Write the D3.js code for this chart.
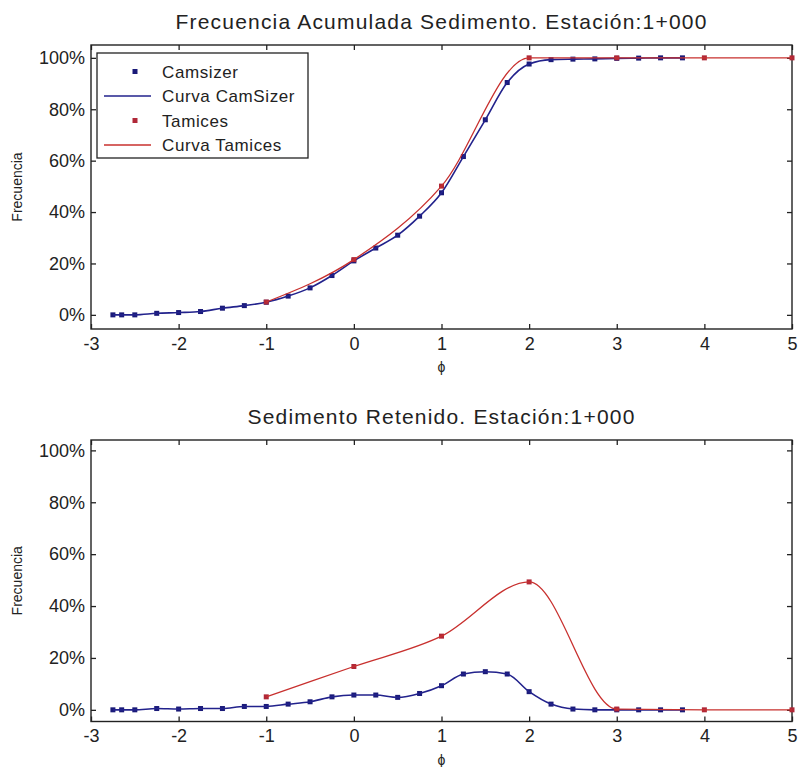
<!DOCTYPE html>
<html>
<head>
<meta charset="utf-8">
<script src="https://cdn.jsdelivr.net/npm/d3@7"></script>
<style>
  body { margin: 0; background: #fff; }
  text { font-family: "Liberation Sans", Arial, Helvetica, sans-serif; fill: #222; }
</style>
</head>
<body>
<svg id="chart"></svg>
<script>
// phi classes (Camsizer) and sieve sizes (Tamices)
var phiCam = [-2.75, -2.65, -2.5, -2.25, -2, -1.75, -1.5, -1.25, -1, -0.75, -0.5, -0.25,
              0, 0.25, 0.5, 0.75, 1, 1.25, 1.5, 1.75, 2, 2.25, 2.5, 2.75, 3, 3.25, 3.5, 3.75];
var phiTam = [-1, 0, 1, 2, 3, 4, 5];

// cumulative frequency (%)
var cumCam = [0, 0, 0, 0.6, 0.9, 1.3, 2.6, 3.6, 4.9, 7.3, 10.5, 15.3,
              21, 26, 31, 38.4, 47.5, 61.6, 75.9, 90.4, 97.6, 99.3, 99.5, 99.6, 99.8, 99.9, 100, 100];
var cumTam = [5, 21.5, 50.1, 100, 100, 100, 100];

// retained sediment (%)
var retCam = [0, 0, 0, 0.5, 0.3, 0.5, 0.5, 1.3, 1.3, 2.2, 3.1, 5.0,
              5.7, 5.7, 4.8, 6.3, 9.3, 13.8, 14.7, 13.8, 7.0, 2.2, 0.3, 0, 0, 0, 0, 0];
var retTam = [5, 16.7, 28.4, 49.3, 0.3, 0, 0];

var xTicks = [-3, -2, -1, 0, 1, 2, 3, 4, 5];
var yTicks = [0, 20, 40, 60, 80, 100];
var legendLabels = ["Camsizer", "Curva CamSizer", "Tamices", "Curva Tamices"];

var blue = "#22228c";
var blueMk = "#1a1a78";
var red = "#c8302e";
var redMk = "#b02838";

var W = 799, H = 767;
var svg = d3.select("#chart").attr("width", W).attr("height", H);

var plotW = 701;

function zip(xs, ys) {
    return xs.map(function(d, i) { return [d, ys[i]]; });
}

function drawPanel(opt) {
    var g = svg.append("g").attr("transform", "translate(" + opt.left + "," + opt.top + ")");
    var h = opt.height;

    var x = d3.scaleLinear().domain([-3, 5]).range([0, plotW]);
    var y = d3.scaleLinear().domain(opt.yDomain).range([h, 0]);

    var line = d3.line()
        .x(function(d) { return x(d[0]); })
        .y(function(d) { return y(d[1]); })
        .curve(d3.curveMonotoneX);

    // axes, ticks pointing inward (plain hyphen for negatives, like matlab)
    g.append("g").attr("transform", "translate(0," + h + ")")
        .call(d3.axisBottom(x).tickValues(xTicks).tickSize(-5).tickPadding(8)
            .tickFormat(function(d) { return String(d); }));
    g.append("g").call(d3.axisTop(x).tickValues(xTicks).tickSize(-5).tickFormat(""));
    g.append("g")
        .call(d3.axisLeft(y).tickValues(yTicks).tickSize(-5).tickPadding(6)
            .tickFormat(function(d) { return d + "%"; }));
    g.append("g").attr("transform", "translate(" + plotW + ",0)")
        .call(d3.axisRight(y).tickValues(yTicks).tickSize(-5).tickFormat(""));

    g.selectAll(".domain").remove();
    g.selectAll(".tick line").attr("stroke", "#222").attr("stroke-width", 1.3);
    g.selectAll(".tick text").attr("font-size", 18).attr("fill", "#222")
        .attr("font-family", "Liberation Sans, Arial, sans-serif");

    g.append("rect")
        .attr("width", plotW).attr("height", h)
        .attr("fill", "none").attr("stroke", "#222").attr("stroke-width", 1.4);

    var cam = zip(phiCam, opt.cam);
    var tam = zip(phiTam, opt.tam);

    // Camsizer points + curve
    g.selectAll("rect.cam").data(cam).enter().append("rect")
        .attr("class", "cam")
        .attr("x", function(d) { return x(d[0]) - 2.5; })
        .attr("y", function(d) { return y(d[1]) - 2.5; })
        .attr("width", 5).attr("height", 5)
        .attr("fill", blueMk);
    g.append("path").datum(cam)
        .attr("d", line).attr("fill", "none")
        .attr("stroke", blue).attr("stroke-width", 1.6);

    // Tamices points + curve
    g.selectAll("rect.tam").data(tam).enter().append("rect")
        .attr("class", "tam")
        .attr("x", function(d) { return x(d[0]) - 2.5; })
        .attr("y", function(d) { return y(d[1]) - 2.5; })
        .attr("width", 5).attr("height", 5)
        .attr("fill", redMk);
    g.append("path").datum(tam)
        .attr("d", line).attr("fill", "none")
        .attr("stroke", red).attr("stroke-width", 1.3);

    // titles
    g.append("text")
        .attr("x", plotW / 2).attr("y", opt.titleY)
        .attr("text-anchor", "middle")
        .attr("font-size", 21).attr("letter-spacing", 1.2)
        .text(opt.title);

    g.append("text")
        .attr("x", plotW / 2).attr("y", h + 43)
        .attr("text-anchor", "middle")
        .attr("font-size", 14)
        .text("\u03D5");

    g.append("text")
        .attr("transform", "translate(" + (-69) + "," + (h / 2) + ") rotate(-90)")
        .attr("text-anchor", "middle")
        .attr("font-size", 14)
        .text("Frecuencia");

    return g;
}

var top1 = drawPanel({
    left: 91, top: 45, height: 284,
    yDomain: [-5.5, 105],
    cam: cumCam, tam: cumTam,
    title: "Frecuencia Acumulada Sedimento. Estación:1+000",
    titleY: -16
});

drawPanel({
    left: 91, top: 440, height: 281.5,
    yDomain: [-4.5, 104],
    cam: retCam, tam: retTam,
    title: "Sedimento Retenido. Estación:1+000",
    titleY: -16
});

// legend in the upper panel
var leg = top1.append("g").attr("transform", "translate(6,8)");
leg.append("rect")
    .attr("width", 211).attr("height", 105)
    .attr("fill", "#fff").attr("stroke", "#222").attr("stroke-width", 1.3);

var rows = leg.selectAll("g.row").data(legendLabels).enter().append("g")
    .attr("class", "row")
    .attr("transform", function(d, i) { return "translate(0," + (18.5 + i * 24.5) + ")"; });

rows.each(function(d, i) {
    var r = d3.select(this);
    var col = i < 2 ? blue : red;
    if (i % 2 === 0) {
        r.append("rect").attr("x", 35.5).attr("y", -2.5).attr("width", 5).attr("height", 5)
            .attr("fill", i < 2 ? blueMk : redMk);
    } else {
        r.append("line").attr("x1", 7).attr("x2", 54).attr("y1", 0).attr("y2", 0)
            .attr("stroke", col).attr("stroke-width", 1.5);
    }
    r.append("text").attr("x", 65).attr("y", 6)
        .attr("font-size", 17).attr("letter-spacing", 0.6)
        .text(d);
});
</script>
</body>
</html>
